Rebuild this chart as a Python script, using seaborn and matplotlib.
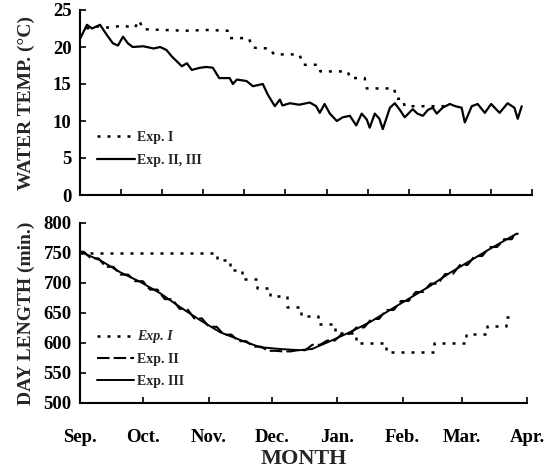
import numpy as np
import pandas as pd
import matplotlib
matplotlib.use("Agg")
import matplotlib.pyplot as plt
import seaborn as sns

# ---------------- data (day 0 = 1 Sep) ----------------
month_labels = ["Sep.", "Oct.", "Nov.", "Dec.", "Jan.", "Feb.", "Mar.", "Apr."]
month_days = [0, 30, 61, 91, 122, 153, 181, 212]

# Water temperature, Exp. I (dotted)
wt1_day = [3, 9, 14, 20, 26, 28, 30, 40, 50, 60, 70, 71, 80, 82, 90, 92, 104, 106,
           113, 114, 127, 128, 135, 136, 149, 150, 153, 154, 173, 176]
wt1_val = [22.5, 22.8, 22.6, 22.9, 22.6, 23.6, 22.4, 22.3, 22.2, 22.3, 22.2, 21.2, 21.2,
           19.9, 19.8, 19.0, 19.0, 17.6, 17.6, 16.7, 16.7, 15.8, 15.8, 14.4, 14.4,
           13.0, 13.0, 12.0, 12.0, 12.2]

# Water temperature, Exp. II, III (solid)
wt2_day = [0, 3.3, 5.7, 9.5, 12.8, 15.6, 18, 20.4, 22.7, 25, 30, 35, 38, 41, 43.6,
           48.3, 50.7, 53, 57, 60, 63, 66, 71, 72.5, 74.4, 79, 82, 86.7, 89, 92.4,
           94.8, 96, 99.5, 104, 109, 112, 113.7, 116, 118.5, 121.8, 124.6, 128, 131,
           133.6, 136, 137.4, 139.8, 142, 143.6, 147, 149.3, 151.7, 154, 157.8, 160,
           162.6, 165, 167.3, 169.2, 172, 175.4, 178, 181, 182.5, 185.8, 188.6, 192,
           195, 199, 202.8, 206, 207.6, 209.5]
wt2_val = [21.1, 23.0, 22.5, 23.0, 21.6, 20.5, 20.2, 21.4, 20.5, 20.0, 20.1, 19.8, 20.0,
           19.6, 18.7, 17.4, 17.8, 16.9, 17.2, 17.3, 17.2, 15.8, 15.8, 15.0, 15.6,
           15.4, 14.7, 15.0, 13.6, 12.0, 12.9, 12.1, 12.4, 12.2, 12.5, 12.0, 11.1,
           12.3, 11.0, 10.0, 10.5, 10.7, 9.4, 11.0, 10.2, 9.1, 11.0, 10.3, 8.9, 11.8,
           12.4, 11.5, 10.5, 11.6, 11.0, 10.7, 11.5, 11.8, 11.0, 11.8, 12.3, 12.0,
           11.8, 9.8, 12.0, 12.3, 11.1, 12.3, 11.1, 12.4, 11.8, 10.3, 12.0]

# Day length, Exp. I (dotted steps)
dl1_day = [0, 65, 71, 77, 84, 90, 98, 105, 113, 121, 131, 145, 168, 183, 193, 202, 207]
dl1_val = [750, 738, 722, 707, 692, 678, 660, 645, 632, 617, 600, 585, 600, 615, 628, 643, 643]

# Day length, Exp. II (dashed, weekly settings)
dl2_day = [0, 7, 14, 21, 28, 35, 42, 49, 56, 63, 70, 77, 84, 91, 98, 105, 112, 119,
           126, 133, 140, 147, 154, 161, 168, 175, 182, 189, 196, 203, 208]
dl2_val = [752, 741, 727, 714, 703, 689, 673, 657, 641, 627, 614, 603, 594, 587, 586,
           588, 597, 604, 615, 626, 640, 655, 670, 685, 699, 715, 730, 745, 760, 773, 782]

# Day length, Exp. III (solid)
dl3_day = [0, 9.5, 19, 28.5, 38, 47.4, 57, 66.4, 76, 85.4, 95, 104, 110, 114, 118.6,
           128, 137.6, 147, 156.5, 166, 175.5, 185, 194.5, 207]
dl3_val = [752, 738, 718, 702, 683, 660, 638, 618, 605, 593, 590, 588, 590, 596, 603,
           618, 635, 655, 675, 695, 717, 737, 757, 782]

# ---------------- styling ----------------
sns.set_style("ticks")
plt.rcParams["font.family"] = ["Liberation Serif", "DejaVu Serif"]
plt.rcParams["font.weight"] = "bold"
plt.rcParams["axes.labelweight"] = "bold"

W, H = 556, 472
fig = plt.figure(figsize=(W / 100, H / 100), dpi=100)

px_per_day = (527 - 80) / 212.0
top_right_day = (532 - 80) / px_per_day

ax1 = fig.add_axes([80 / W, 1 - 195 / H, (532 - 80) / W, (195 - 10) / H])
ax2 = fig.add_axes([80 / W, 1 - 403 / H, (527 - 80) / W, (403 - 223) / H])

df_wt1 = pd.DataFrame({"day": wt1_day, "val": wt1_val})
df_wt2 = pd.DataFrame({"day": wt2_day, "val": wt2_val})
df_dl1 = pd.DataFrame({"day": dl1_day, "val": dl1_val})
df_dl3 = pd.DataFrame({"day": dl3_day, "val": dl3_val})

# Exp. II: each weekly setting held as a short horizontal plateau
half = 1.8
x2, y2 = [], []
for d, v in zip(dl2_day, dl2_val):
    x2 += [max(d - half, 0), min(d + half, 208)]
    y2 += [v, v]
df_dl2 = pd.DataFrame({"day": x2, "val": y2})

dotted = (0, (1.2, 2.8))

sns.lineplot(data=df_wt1, x="day", y="val", ax=ax1, color="black", lw=1.8,
             linestyle=dotted, estimator=None, sort=False, label="Exp. I")
sns.lineplot(data=df_wt2, x="day", y="val", ax=ax1, color="black", lw=1.6,
             estimator=None, sort=False, label="Exp. II, III")

sns.lineplot(data=df_dl1, x="day", y="val", ax=ax2, color="black", lw=1.8,
             linestyle=dotted, drawstyle="steps-post", estimator=None, sort=False,
             label="Exp. I")
sns.lineplot(data=df_dl2, x="day", y="val", ax=ax2, color="black", lw=1.5,
             linestyle=(0, (6, 2.0)), estimator=None,
             sort=False, label="Exp. II")
sns.lineplot(data=df_dl3, x="day", y="val", ax=ax2, color="black", lw=1.4,
             estimator=None, sort=False, label="Exp. III")

for ax in (ax1, ax2):
    sns.despine(ax=ax)
    for s in ("left", "bottom"):
        ax.spines[s].set_linewidth(1.5)
        ax.spines[s].set_color("black")
    ax.tick_params(direction="in", length=4, width=1.2, colors="black",
                   labelsize=13.5, pad=6)
    ax.set_xlabel("")

ax1.set_xlim(0, top_right_day)
ax1.set_ylim(0, 25)
ax1.set_yticks([0, 5, 10, 15, 20, 25])
ax1.set_xticks(np.linspace(0, top_right_day, 12))
ax1.set_xticklabels([])
ax1.set_ylabel("WATER TEMP. (°C)", fontsize=14, labelpad=13)

ax2.set_xlim(0, 212)
ax2.set_ylim(500, 800)
ax2.set_yticks([500, 550, 600, 650, 700, 750, 800])
ax2.set_xticks(month_days)
ax2.set_xticklabels(month_labels, fontsize=13.5)
ax2.tick_params(axis="x", pad=19)
ax2.set_ylabel("DAY LENGTH (min.)", fontsize=14, labelpad=6)
ax2.set_xlabel("MONTH", fontsize=16, labelpad=2)

for lab in ax1.get_yticklabels() + ax2.get_yticklabels() + ax2.get_xticklabels():
    lab.set_fontweight("bold")

leg1 = ax1.legend(loc="lower left", bbox_to_anchor=(0.01, 0.082), frameon=False,
                  handlelength=2.7, handletextpad=0.2, labelspacing=0.75,
                  prop={"family": "Liberation Serif", "weight": "bold", "size": 10})
leg2 = ax2.legend(loc="lower left", bbox_to_anchor=(0.01, 0.012), frameon=False,
                  handlelength=2.7, handletextpad=0.2, labelspacing=0.68,
                  prop={"family": "Liberation Serif", "weight": "bold", "size": 10})
leg2.get_texts()[0].set_fontstyle("italic")

fig.savefig("out.png", dpi=100)
